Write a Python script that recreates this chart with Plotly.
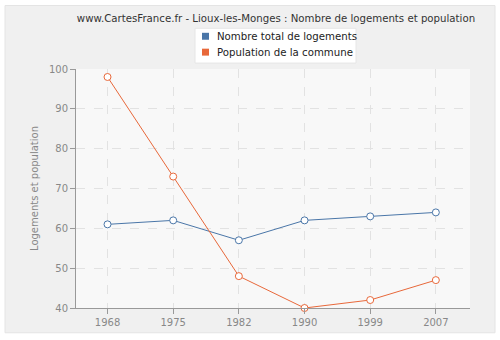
import plotly.graph_objects as go

years = ["1968", "1975", "1982", "1990", "1999", "2007"]
logements = [61, 62, 57, 62, 63, 64]
population = [98, 73, 48, 40, 42, 47]
y_ticks = [40, 50, 60, 70, 80, 90, 100]
series_names = ["Nombre total de logements", "Population de la commune"]

blue = "#4a76a8"
orange = "#e8683a"
font = "DejaVu Sans"

L, R, T, B = 76, 30, 69, 30
W, H = 500, 340
pw, ph = W - L - R, H - T - B


def px(x):
    return (x - L) / pw


def py(y):
    return (H - B - y) / ph


fig = go.Figure()
for name, vals, col in [(series_names[0], logements, blue),
                        (series_names[1], population, orange)]:
    fig.add_trace(go.Scatter(
        x=years, y=vals, mode="lines+markers", name=name, showlegend=False,
        line=dict(color=col, width=1),
        marker=dict(symbol="circle", size=7, color="white", line=dict(color=col, width=1)),
        cliponaxis=False))

# outer frame
fig.add_shape(type="rect", xref="paper", yref="paper", layer="below",
              x0=px(5), x1=px(495), y0=py(335), y1=py(5),
              fillcolor="#f0f0f0", line=dict(color="#e4e4e4", width=1))
# plot area
fig.add_shape(type="rect", xref="paper", yref="paper", layer="below",
              x0=0, x1=1, y0=0, y1=1, fillcolor="#f8f8f8", line=dict(width=0))
# legend box
fig.add_shape(type="rect", xref="paper", yref="paper", layer="above",
              x0=px(195), x1=px(356), y0=py(63), y1=py(28),
              fillcolor="#ffffff", line=dict(color="#e6e6e6", width=1))
for i, (name, col) in enumerate(zip(series_names, [blue, orange])):
    yc = [36, 52][i]
    fig.add_shape(type="rect", xref="paper", yref="paper", layer="above",
                  x0=px(202), x1=px(209), y0=py(yc + 3.5), y1=py(yc - 3.5),
                  fillcolor=col, line=dict(width=0))
    fig.add_annotation(xref="paper", yref="paper", x=px(215), y=py(yc),
                       xanchor="left", yanchor="middle", showarrow=False, text=name,
                       font=dict(family=font, size=10.2, color="#222"))

fig.update_layout(
    width=W, height=H, margin=dict(l=L, r=R, t=T, b=B),
    paper_bgcolor="white", plot_bgcolor="#f8f8f8", showlegend=False,
    font=dict(family=font, size=10, color="#888"),
    title=dict(text="www.CartesFrance.fr - Lioux-les-Monges : Nombre de logements et population",
               x=0.552, xanchor="center", y=1 - 18 / H, yanchor="middle",
               font=dict(family=font, size=10.2, color="#333")),
    xaxis=dict(type="category", range=[-0.48, 5.52], showline=True, linecolor="#999",
               ticks="outside", ticklen=5, tickcolor="#999", showgrid=True,
               gridcolor="#e2e2e2", griddash="dash", tickfont=dict(color="#888", size=10),
               zeroline=False, fixedrange=True),
    yaxis=dict(range=[40, 100], tickvals=y_ticks, showline=True, linecolor="#999",
               ticks="outside", ticklen=5, tickcolor="#999", showgrid=True,
               gridcolor="#e2e2e2", griddash="dash", tickfont=dict(color="#888", size=10),
               title=dict(text="Logements et population", font=dict(color="#888", size=10), standoff=8),
               zeroline=False),
)

fig.write_html("out.html")
